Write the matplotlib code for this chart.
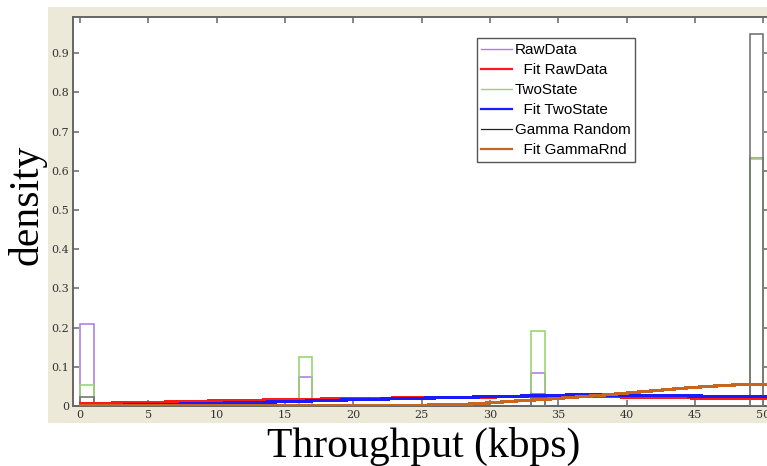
import matplotlib
matplotlib.use("Agg")
import matplotlib.pyplot as plt
from matplotlib.patches import Rectangle

# Histogram bins (left edges, width 1 kbps) and densities per series
bin_left = [0, 16, 33, 49]
raw_density = [0.208, 0.074, 0.085, 0.633]
twostate_density = [0.054, 0.124, 0.192, 0.630]
gamma_density = [0.022, 0.003, 0.030, 0.950]

# Fitted density curves sampled along the throughput axis
fit_x = [0, 5, 10, 15, 20, 25, 28, 30, 32, 34, 36, 38, 40, 42, 44, 46, 48, 50, 50.5]
fit_raw = [0.006, 0.009, 0.013, 0.016, 0.019, 0.021, 0.022, 0.023, 0.024, 0.024,
           0.024, 0.024, 0.023, 0.022, 0.021, 0.020, 0.019, 0.019, 0.019]
fit_twostate = [0.001, 0.003, 0.007, 0.011, 0.016, 0.020, 0.022, 0.024, 0.025, 0.027,
                0.028, 0.028, 0.028, 0.027, 0.026, 0.025, 0.024, 0.024, 0.024]
fit_gamma = [0.001, 0.001, 0.001, 0.001, 0.001, 0.002, 0.004, 0.008, 0.013, 0.017,
             0.022, 0.027, 0.033, 0.039, 0.045, 0.050, 0.054, 0.055, 0.055]

x_ticks = [0, 5, 10, 15, 20, 25, 30, 35, 40, 45, 50]
y_ticks = [0, 0.1, 0.2, 0.3, 0.4, 0.5, 0.6, 0.7, 0.8, 0.9]
y_tick_labels = ["0", "0.1", "0.2", "0.3", "0.4", "0.5", "0.6", "0.7", "0.8", "0.9"]

W, H = 767, 466
fig = plt.figure(figsize=(W / 100, H / 100), dpi=100)
fig.patch.set_facecolor("white")

# Beige window frame behind the axes
fig.patches.append(Rectangle((48 / W, 1 - 423 / H), 1.0, (423 - 7) / H,
                             transform=fig.transFigure, facecolor="#ece9d8",
                             edgecolor="none", zorder=-10))

ax = fig.add_axes([73.3 / W, 1 - 406 / H, 697 / W, (406 - 16.7) / H])
ax.set_zorder(1)
ax.set_facecolor("white")
ax.set_xlim(-0.5, 50.5)
ax.set_ylim(0, 0.993)

purple = "#a97ee0"
red = "#ff1a1a"
green = "#98d46a"
blue = "#1a1aff"
dark = "#666666"
brown = "#c8661e"

ax.bar(bin_left, raw_density, width=1, align="edge", fill=False,
       edgecolor=purple, lw=1.15, zorder=3)
l_raw, = ax.plot([], [], color=purple, lw=1.0)
l_fit_raw, = ax.plot(fit_x, fit_raw, color=red, lw=1.6, antialiased=False, zorder=4)
ax.bar(bin_left, twostate_density, width=1, align="edge", fill=False,
       edgecolor=green, lw=1.15, zorder=3)
l_two, = ax.plot([], [], color=green, lw=1.0)
l_fit_two, = ax.plot(fit_x, fit_twostate, color=blue, lw=1.6, antialiased=False, zorder=5)
ax.bar(bin_left, gamma_density, width=1, align="edge", fill=False,
       edgecolor="#6f6f6f", lw=1.15, zorder=3)
l_gam, = ax.plot([], [], color="#222222", lw=0.9)
l_fit_gam, = ax.plot(fit_x, fit_gamma, color=brown, lw=1.6, antialiased=False, zorder=6)

ax.set_xticks(x_ticks)
ax.set_xticklabels([str(v) for v in x_ticks])
ax.set_yticks(y_ticks)
ax.set_yticklabels(y_tick_labels)
ax.tick_params(direction="in", length=4, width=1.1, color=dark,
               top=True, right=True, labelsize=8, labelcolor="#333333", pad=3)
for lab in ax.get_xticklabels() + ax.get_yticklabels():
    lab.set_family("DejaVu Serif")
for sp in ax.spines.values():
    sp.set_color(dark)
    sp.set_linewidth(1.4)

leg = ax.legend([l_raw, l_fit_raw, l_two, l_fit_two, l_gam, l_fit_gam],
                ["RawData", "  Fit RawData", "TwoState", "  Fit TwoState",
                 "Gamma Random", "  Fit GammaRnd"],
                loc="upper left", bbox_to_anchor=(476.7 / W, 1 - 38.3 / H),
                bbox_transform=fig.transFigure, borderaxespad=0, borderpad=0.3,
                handlelength=2.0, handletextpad=0.2, labelspacing=0.4,
                fancybox=False, framealpha=1, edgecolor="#555555",
                prop={"family": "Liberation Sans", "size": 11})
leg.get_frame().set_linewidth(1.0)

fig.text(27 / W, 1 - 205 / H, "density", rotation=90, ha="center", va="center",
         family="Liberation Serif", fontsize=30)
fig.text(424 / W, 1 - 446 / H, "Throughput (kbps)", ha="center", va="center",
         family="Liberation Serif", fontsize=30)

fig.savefig("out.png", dpi=100)
